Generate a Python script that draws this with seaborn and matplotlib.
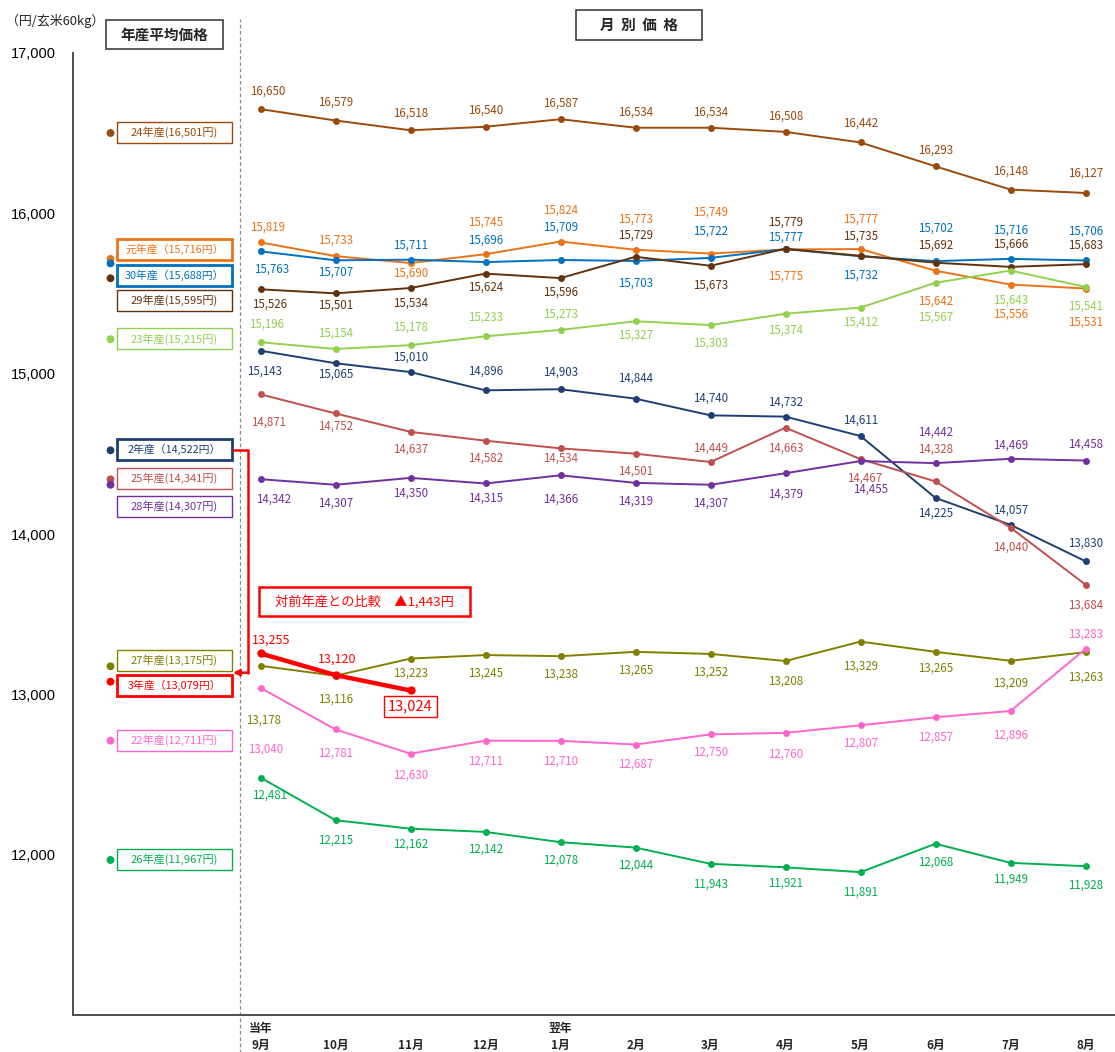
import numpy as np
import pandas as pd
import matplotlib
matplotlib.use("Agg")
import matplotlib.pyplot as plt
from matplotlib.patches import Rectangle
import seaborn as sns

# ---------------- data ----------------
months = ["9月", "10月", "11月", "12月", "1月", "2月", "3月", "4月", "5月", "6月", "7月", "8月"]
year_tags = {"9月": "当年", "1月": "翌年"}

series_names = ["24年産", "元年産", "30年産", "29年産", "23年産", "2年産",
                "25年産", "28年産", "27年産", "3年産", "22年産", "26年産"]
annual_avg = [16501, 15716, 15688, 15595, 15215, 14522, 14341, 14307, 13175, 13079, 12711, 11967]

prices_h24 = [16650, 16579, 16518, 16540, 16587, 16534, 16534, 16508, 16442, 16293, 16148, 16127]
prices_r1 = [15819, 15733, 15690, 15745, 15824, 15773, 15749, 15775, 15777, 15642, 15556, 15531]
prices_h30 = [15763, 15707, 15711, 15696, 15709, 15703, 15722, 15777, 15732, 15702, 15716, 15706]
prices_h29 = [15526, 15501, 15534, 15624, 15596, 15729, 15673, 15779, 15735, 15692, 15666, 15683]
prices_h23 = [15196, 15154, 15178, 15233, 15273, 15327, 15303, 15374, 15412, 15567, 15643, 15541]
prices_r2 = [15143, 15065, 15010, 14896, 14903, 14844, 14740, 14732, 14611, 14225, 14057, 13830]
prices_h25 = [14871, 14752, 14637, 14582, 14534, 14501, 14449, 14663, 14467, 14328, 14040, 13684]
prices_h28 = [14342, 14307, 14350, 14315, 14366, 14319, 14307, 14379, 14455, 14442, 14469, 14458]
prices_h27 = [13178, 13116, 13223, 13245, 13238, 13265, 13252, 13208, 13329, 13265, 13209, 13263]
prices_r3 = [13255, 13120, 13024]
prices_h22 = [13040, 12781, 12630, 12711, 12710, 12687, 12750, 12760, 12807, 12857, 12896, 13283]
prices_h26 = [12481, 12215, 12162, 12142, 12078, 12044, 11943, 11921, 11891, 12068, 11949, 11928]

monthly = [prices_h24, prices_r1, prices_h30, prices_h29, prices_h23, prices_r2,
           prices_h25, prices_h28, prices_h27, prices_r3, prices_h22, prices_h26]

diff_text = "対前年産との比較　▲1,443円"

# ---------------- style ----------------
colors = {
    "24年産": "#9A4A0C", "元年産": "#EB7318", "30年産": "#0070C0", "29年産": "#62320E",
    "23年産": "#92D050", "2年産": "#1F3F73", "25年産": "#C0504D", "28年産": "#7030A0",
    "27年産": "#808000", "3年産": "#FF0000", "22年産": "#FF66CC", "26年産": "#00B050",
}
thick_box = {"元年産", "30年産", "2年産", "3年産"}
# legend-box vertical centres (value units) and label offsets (px, + = down / right)
box_y = {"24年産": 16504, "元年産": 15777, "30年産": 15612, "29年産": 15457, "23年産": 15217,
         "2年産": 14525, "25年産": 14347, "28年産": 14173, "27年産": 13213, "3年産": 13057,
         "22年産": 12711, "26年産": 11969}
label_dy = {
    "24年産": [-18, -18, -17, -17, -16, -16, -16, -16, -19, -16, -18, -20],
    "元年産": [-15, -16, 10, -32, -31, -31, -41, 27, -30, 30, 30, 34],
    "30年産": [18, 12, -15, -22, -33, 22, -27, -12, 19, -33, -29, -29],
    "29年産": [15, 12, 15, 14, 14, -22, 19, -27, -20, -18, -23, -19],
    "23年産": [-18, -16, -18, -19, -16, 14, 18, 16, 15, 34, 30, 19],
    "2年産": [20, 11, -15, -19, -17, -21, -17, -14, -16, 15, -15, -18],
    "25年産": [28, 13, 17, 17, 10, 17, -14, 20, 19, -32, 20, 20],
    "28年産": [20, 18, 15, 15, 24, 18, 18, 21, 28, -31, -14, -16],
    "27年産": [54, 23, 15, 18, 18, 18, 18, 20, 25, 16, 22, 25],
    "3年産": [-13, -16, 16],
    "22年産": [61, 24, 21, 20, 20, 20, 18, 21, 18, 20, 24, -15],
    "26年産": [18, 20, 15, 17, 18, 18, 20, 16, 20, 18, 16, 19],
}
first_dx = {"24年産": 7, "元年産": 7, "30年産": 11, "29年産": 9, "23年産": 6, "2年産": 4,
            "25年産": 8, "28年産": 13, "27年産": 3, "3年産": 11, "22年産": 5, "26年産": 9}
label_dx = {"3年産": {1: 2}, "28年産": {8: 10}, "25年産": {8: 4}}

W, H = 1115, 1052
sns.set_theme(style="white")
plt.rcParams["font.family"] = ["Noto Sans CJK JP", "DejaVu Sans"]

fig = plt.figure(figsize=(W / 100, H / 100), dpi=100)
ax_left, ax_right, ax_top, ax_bottom = 73, 1115, 53, 1015
ax = fig.add_axes([ax_left / W, 1 - ax_bottom / H, (ax_right - ax_left) / W, (ax_bottom - ax_top) / H])

# x positions: slot 0 = annual average, slots 2..13 = months
month_pos = np.arange(2, 2 + len(months))

rows = []
for name, vals in zip(series_names, monthly):
    for i, v in enumerate(vals):
        rows.append({"series": name, "pos": month_pos[i], "price": v})
df = pd.DataFrame(rows)
df_main = df[df.series != "3年産"]
df_r3 = df[df.series == "3年産"]

sns.lineplot(data=df_main, x="pos", y="price", hue="series", palette=colors,
             hue_order=[s for s in series_names if s != "3年産"],
             marker="o", markersize=5, markeredgewidth=0, linewidth=1.4,
             estimator=None, sort=False, legend=False, ax=ax)
sns.lineplot(data=df_r3, x="pos", y="price", color=colors["3年産"],
             marker="o", markersize=6, markeredgewidth=0, linewidth=3.2,
             estimator=None, sort=False, legend=False, ax=ax)

df_avg = pd.DataFrame({"series": series_names, "pos": 0, "price": annual_avg})
sns.scatterplot(data=df_avg, x="pos", y="price", hue="series", palette=colors,
                s=32, linewidth=0, legend=False, ax=ax, zorder=5)

# value labels
for name, vals in zip(series_names, monthly):
    for i, v in enumerate(vals):
        dy = label_dy[name][i]
        dx = first_dx[name] if i == 0 else label_dx.get(name, {}).get(i, 0)
        if name == "3年産" and i == len(vals) - 1:
            ax.annotate(f"{v:,}", (month_pos[i], v), xytext=(0, -dy), textcoords="offset pixels",
                        ha="center", va="center", color=colors[name], fontsize=10.5,
                        bbox=dict(boxstyle="square,pad=0.25", fc="white", ec=colors[name], lw=1))
        else:
            ax.annotate(f"{v:,}", (month_pos[i], v), xytext=(dx, -dy), textcoords="offset pixels",
                        ha="center", va="center", color=colors[name],
                        fontsize=9 if name == "3年産" else 8.3)

# legend boxes in the annual column
bx0, bx1 = (117 - 110.5) / 75, (232 - 110.5) / 75
bh = 21 / 0.1604
for name, avg in zip(series_names, annual_avg):
    yc = box_y[name]
    thick = name in thick_box
    ax.add_patch(Rectangle((bx0, yc - bh / 2), bx1 - bx0, bh, fc="white", ec=colors[name],
                           lw=2.0 if thick else 1.0, zorder=4, clip_on=False))
    if thick:
        txt = f"{name}（{avg:,}円）"
        fs = 7.8
    else:
        txt = f"{name}({avg:,}円)"
        fs = 8.0
    ax.text((bx0 + bx1) / 2, yc, txt, ha="center", va="center", color=colors[name],
            fontsize=fs, zorder=6)

# bracket arrow from 2年産 to 3年産
xb0 = (233 - 110.5) / 75
xb1 = (248 - 110.5) / 75
y_top, y_bot = box_y["2年産"], 13135
ax.plot([xb0, xb1, xb1], [y_top, y_top, y_bot], color="#FF0000", lw=1.8, clip_on=False, zorder=6)
ax.annotate("", xy=(xb0, y_bot), xytext=(xb1 + 0.01, y_bot),
            arrowprops=dict(arrowstyle="-|>", color="#FF0000", lw=1.8, mutation_scale=9,
                            shrinkA=0, shrinkB=0), zorder=6)

# comparison box
cx0, cx1 = (259 - 110.5) / 75, (470 - 110.5) / 75
cy0, cy1 = 13490, 13671
ax.add_patch(Rectangle((cx0, cy0), cx1 - cx0, cy1 - cy0, fc="white", ec="#FF0000", lw=1.8, zorder=4))
ax.text((cx0 + cx1) / 2, (cy0 + cy1) / 2, diff_text, ha="center", va="center",
        color="#FF0000", fontsize=9.5, zorder=6)

# dashed divider
ax.axvline((240 - 110.5) / 75, ymin=-0.04, ymax=1.035, color="#8C8C8C", lw=0.9,
           ls=(0, (3, 2)), clip_on=False, zorder=1)

# axes
ax.set_xlim(-0.5, (W - 110.5) / 75)
ax.set_ylim(11000, 17000)
yt = [12000, 13000, 14000, 15000, 16000, 17000]
ax.set_yticks(yt)
ax.set_yticklabels([f"{v:,}" for v in yt], family=["Liberation Sans", "DejaVu Sans"])
ax.tick_params(axis="y", direction="in", length=4, width=1, labelsize=10.5, pad=12, colors="#333333")
ax.tick_params(axis="y", labelcolor="black")
ax.set_xticks(month_pos)
ax.set_xticklabels([f"{year_tags.get(m, '')}\n{m}" for m in months], fontsize=8.5,
                   fontweight="bold", linespacing=1.45)
ax.set_xticks(np.arange(0.5, 13.0, 1.0), minor=True)
ax.tick_params(axis="x", which="major", length=0, pad=5)
ax.tick_params(axis="x", which="minor", direction="in", length=4, width=1, colors="#333333")
ax.set_xlabel("")
ax.set_ylabel("")
for s in ["top", "right"]:
    ax.spines[s].set_visible(False)
for s in ["left", "bottom"]:
    ax.spines[s].set_color("#4D4D4D")
    ax.spines[s].set_linewidth(1.4)


def fig_box(x0, y0, x1, y1, text, fs, weight="normal"):
    fig.patches.append(Rectangle((x0 / W, 1 - y1 / H), (x1 - x0) / W, (y1 - y0) / H,
                                 transform=fig.transFigure, fc="white", ec="#404040", lw=1.2))
    fig.text((x0 + x1) / 2 / W, 1 - (y0 + y1) / 2 / H, text, ha="center", va="center",
             fontsize=fs, fontweight=weight)


fig_box(106, 20, 223, 49, "年産平均価格", 10.5, "bold")
fig_box(576, 10, 702, 40, "月  別  価  格", 10.5, "bold")
fig.text(6 / W, 1 - 21 / H, "（円/玄米60kg）", ha="left", va="center", fontsize=9.3)

fig.savefig("out.png", dpi=100)
